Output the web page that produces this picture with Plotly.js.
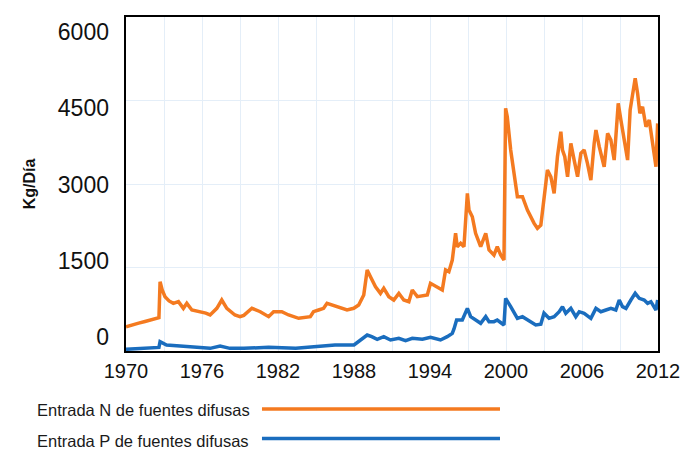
<!DOCTYPE html>
<html>
<head>
<meta charset="utf-8">
<script src="https://cdn.plot.ly/plotly-3.0.1.min.js"></script>
<style>html,body{margin:0;padding:0;background:#fff;}#chart{width:685px;height:450px;}</style>
</head>
<body>
<div id="chart"></div>
<script>
// ---- Data ----
const seriesNames = ["Entrada N de fuentes difusas", "Entrada P de fuentes difusas"];

const nYears = [1970.0,1970.5,1971.0,1971.5,1972.0,1972.4,1972.6,1972.69,1972.85,1973.08,1973.4,1973.74,1974.14,1974.53,1974.8,1975.2,1975.85,1976.3,1976.64,1977.17,1977.56,1977.96,1978.6,1979.0,1979.3,1979.94,1980.6,1981.26,1981.65,1982.3,1982.84,1983.63,1984.55,1984.8,1985.2,1985.6,1985.87,1986.27,1986.79,1987.45,1987.98,1988.37,1988.77,1989.04,1989.3,1989.7,1990.09,1990.35,1990.75,1991.14,1991.54,1991.93,1992.33,1992.6,1993.0,1993.79,1994.04,1994.57,1994.97,1995.23,1995.49,1995.76,1996.02,1996.15,1996.42,1996.68,1996.95,1997.08,1997.34,1997.6,1998.0,1998.4,1998.66,1999.05,1999.31,1999.58,1999.84,1999.97,2000.1,2000.37,2000.9,2001.3,2001.69,2002.22,2002.48,2002.75,2003.0,2003.27,2003.54,2003.8,2004.06,2004.33,2004.46,2004.64,2004.86,2005.12,2005.38,2005.65,2005.91,2006.17,2006.43,2006.7,2006.96,2007.1,2007.36,2007.75,2008.02,2008.28,2008.54,2008.86,2009.07,2009.33,2009.6,2009.8,2010.0,2010.2,2010.39,2010.57,2010.78,2011.05,2011.31,2011.58,2011.84,2011.97];
const nValues = [436,460,500,530,560,590,600,1245,1100,975,900,856,886,766,856,736,706,680,647,766,916,766,647,617,640,767,706,617,706,706,647,587,617,706,736,767,856,826,796,736,767,826,1006,1455,1335,1155,1036,1126,976,916,1036,916,886,1096,976,1006,1216,1155,1096,1455,1425,1634,2114,1873,1934,1873,2832,2532,2412,2114,1873,2114,1814,1724,1873,1724,1634,4360,4208,3610,2771,2771,2532,2293,2204,2260,2800,3251,3131,2832,3490,3939,3610,3490,3131,3730,3430,3131,3550,3610,3371,3071,3730,3970,3670,3310,3909,3790,3430,4449,4149,3790,3430,4328,4628,4898,4628,4269,4388,4029,4149,3730,3310,4089];

const pYears = [1970.0,1971.0,1972.4,1972.6,1972.69,1973.2,1974.27,1975.3,1976.64,1977.43,1978.2,1979.3,1981.26,1983.4,1984.4,1985.7,1986.5,1988.0,1988.5,1989.04,1989.4,1989.83,1990.35,1990.88,1991.54,1992.07,1992.6,1993.4,1994.04,1994.83,1995.36,1995.76,1995.9,1996.1,1996.55,1996.95,1997.21,1997.6,1998.0,1998.4,1998.66,1999.05,1999.31,1999.84,1999.97,2000.37,2000.9,2001.3,2001.69,2002.35,2002.75,2003.0,2003.4,2003.8,2004.2,2004.46,2004.72,2005.12,2005.51,2005.78,2006.17,2006.7,2007.1,2007.49,2007.89,2008.28,2008.67,2008.94,2009.2,2009.47,2009.86,2010.2,2010.52,2010.91,2011.18,2011.44,2011.84,2011.97];
const pValues = [30,45,60,65,167,108,90,66,48,90,48,48,66,48,66,90,108,108,198,287,257,210,257,198,228,185,228,210,246,198,257,317,400,557,557,766,617,557,497,617,527,527,557,467,946,796,587,617,557,467,480,680,587,617,706,796,677,766,617,706,677,587,766,706,736,766,736,916,796,766,916,1036,946,916,856,886,736,916];

const yTickVals = [0, 1500, 3000, 4500, 6000];
const yTickText = ["0", "1500", "3000", "4500", "6000"];
const xTickVals = [1970, 1976, 1982, 1988, 1994, 2000, 2006, 2012];
const xTickText = ["1970", "1976", "1982", "1988", "1994", "2000", "2006", "2012"];
const yTitle = "Kg/Día";

const colorN = "#F47A20";
const colorP = "#1A6DBE";
const gridColor = "#E4EEF8";
const sans = "'Liberation Sans', Arial, sans-serif";

const traces = [
  {x: nYears, y: nValues, type: "scatter", mode: "lines", name: seriesNames[0],
   line: {color: colorN, width: 3.5}, showlegend: false},
  {x: pYears, y: pValues, type: "scatter", mode: "lines", name: seriesNames[1],
   line: {color: colorP, width: 3.5}, showlegend: false},
  // empty trace so the label axis (y2) is created; draws nothing
  {x: [], y: [], type: "scatter", mode: "lines", yaxis: "y2", showlegend: false, hoverinfo: "skip"}
];

const layout = {
  width: 685, height: 450,
  margin: {l: 126, r: 27, t: 17, b: 99},
  paper_bgcolor: "#fff", plot_bgcolor: "#fff",
  showlegend: false,
  xaxis: {
    range: [1970, 2012], tickvals: xTickVals, ticktext: xTickText,
    showgrid: true, gridcolor: gridColor, gridwidth: 1,
    minor: {dtick: 3, tick0: 1970, showgrid: true, gridcolor: gridColor, gridwidth: 1},
    showline: true, linecolor: "#000", linewidth: 2, mirror: true,
    ticks: "", zeroline: false, ticklabelstandoff: 1,
    tickfont: {family: sans, size: 20, color: "#111"}
  },
  yaxis: {
    range: [0, 6000], dtick: 1500, showgrid: true, gridcolor: gridColor, gridwidth: 1,
    showticklabels: false, ticks: "", zeroline: false,
    showline: true, linecolor: "#000", linewidth: 2, mirror: true
  },
  yaxis2: {
    overlaying: "y", side: "left", range: [-275, 6295],
    tickvals: yTickVals, ticktext: yTickText,
    showgrid: false, zeroline: false, showline: false, ticks: "",
    ticklabelstandoff: 16,
    tickfont: {family: sans, size: 23, color: "#111"},
    title: {text: yTitle, font: {family: sans, size: 16, color: "#111", weight: "bold"}, standoff: 18}
  },
  annotations: [
    {xref: "paper", yref: "paper", x: -0.171, y: -0.1766, xanchor: "left", yanchor: "middle",
     text: seriesNames[0], showarrow: false, font: {family: sans, size: 16.5, color: "#1a1a1a"}},
    {xref: "paper", yref: "paper", x: -0.171, y: -0.2695, xanchor: "left", yanchor: "middle",
     text: seriesNames[1], showarrow: false, font: {family: sans, size: 16.5, color: "#1a1a1a"}}
  ],
  shapes: [
    {type: "line", xref: "paper", yref: "paper", x0: 0.2556, x1: 0.703, y0: -0.174, y1: -0.174,
     line: {color: colorN, width: 3.5}},
    {type: "line", xref: "paper", yref: "paper", x0: 0.2556, x1: 0.703, y0: -0.262, y1: -0.262,
     line: {color: colorP, width: 3.5}}
  ]
};

Plotly.newPlot("chart", traces, layout, {displayModeBar: false, staticPlot: true});
</script>
</body>
</html>
